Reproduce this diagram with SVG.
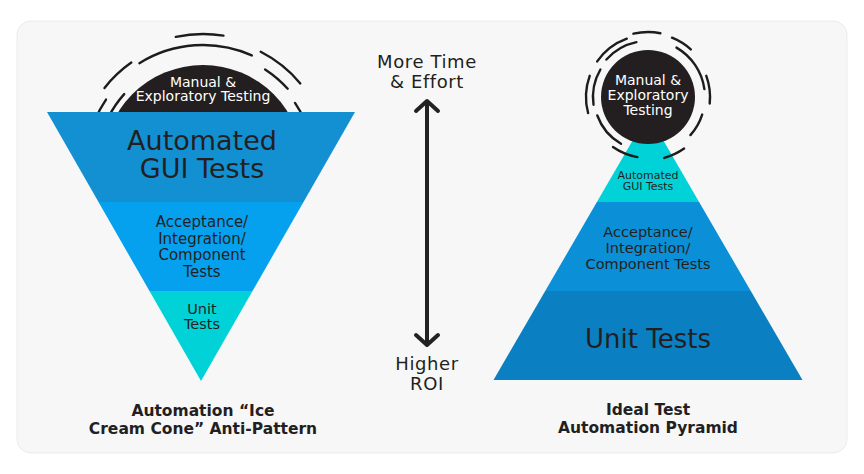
<svg xmlns="http://www.w3.org/2000/svg" width="864" height="474" viewBox="0 0 864 474">
  <style>
    .t { font-family: "DejaVu Sans", "Liberation Sans", sans-serif; fill: #231f20; text-anchor: middle; }
    .w { fill: #ffffff; }
    .cap { font-weight: bold; font-size: 15.5px; }
    .ring { fill: none; stroke: #1c1c1c; stroke-width: 2.4; stroke-linecap: round; }
    .dark { fill: #231f20; }
  </style>
  <defs>
    <marker id="chev" markerUnits="userSpaceOnUse" markerWidth="30" markerHeight="30" viewBox="-15 -15 30 30" refX="0" refY="0" orient="auto-start-reverse">
      <path d="M -10 -11 L 0 0 L -10 11" fill="none" stroke="#222" stroke-width="4" stroke-linecap="round" stroke-linejoin="round"/>
    </marker>
  </defs>

  <rect x="17" y="21" width="830" height="432" rx="14" fill="#f7f7f7" stroke="#ebebeb" stroke-width="1"/>

  <!-- Left: ice cream cone -->
  <g id="left-manual">
    <circle class="dark" cx="203" cy="165" r="100"/>
    <path class="ring" d="M175.8 36.9 A131 131 0 0 1 223.5 35.6"/>
    <path class="ring" d="M139.4 63.2 A120 120 0 0 1 251.8 55.4"/>
    <path class="ring" d="M104.5 88.0 A125 125 0 0 1 131.3 62.6"/>
    <path class="ring" d="M95.3 119.3 A117 117 0 0 1 106.0 99.6"/>
    <path class="ring" d="M108.6 116.9 A106 106 0 0 1 124.2 94.1"/>
    <path class="ring" d="M260.7 51.8 A127 127 0 0 1 300.3 83.4"/>
    <path class="ring" d="M265.1 69.4 A114 114 0 0 1 287.7 88.7"/>
    <path class="ring" d="M295.0 102.9 A111 111 0 0 1 304.4 119.9"/>
    <text class="t w" x="203" y="86.5" font-size="14">Manual &amp;</text>
    <text class="t w" x="203" y="101" font-size="14">Exploratory Testing</text>
  </g>
  <g id="left-gui">
    <polygon points="47,112 355,112 303.5,202 98.5,202" fill="#1290d2"/>
    <text class="t" x="202" y="150" font-size="27">Automated</text>
    <text class="t" x="202" y="178" font-size="27">GUI Tests</text>
  </g>
  <g id="left-acceptance">
    <polygon points="98.5,202 303.5,202 252.5,291 149.5,291" fill="#05a1ef"/>
    <text class="t" x="202" y="227" font-size="15">Acceptance/</text>
    <text class="t" x="202" y="243.5" font-size="15">Integration/</text>
    <text class="t" x="202" y="260" font-size="15">Component</text>
    <text class="t" x="202" y="276.5" font-size="15">Tests</text>
  </g>
  <g id="left-unit">
    <polygon points="149.5,291 252.5,291 201,381" fill="#00d2d8"/>
    <text class="t" x="202" y="313.5" font-size="14.5">Unit</text>
    <text class="t" x="202" y="328.5" font-size="14.5">Tests</text>
  </g>
  <g id="left-caption">
    <text class="t cap" x="203" y="415.5">Automation “Ice</text>
    <text class="t cap" x="203" y="433.5">Cream Cone” Anti-Pattern</text>
  </g>

  <!-- Middle axis -->
  <g id="axis-labels">
    <text class="t" x="427" y="68" font-size="18" letter-spacing="0.6">More Time</text>
    <text class="t" x="427" y="87.5" font-size="18" letter-spacing="0.6">&amp; Effort</text>
    <text class="t" x="427" y="370" font-size="18" letter-spacing="0.6">Higher</text>
    <text class="t" x="427" y="389.5" font-size="18" letter-spacing="0.6">ROI</text>
  </g>
  <g id="connectors">
    <line x1="427" y1="101" x2="427" y2="345" stroke="#222" stroke-width="4" marker-start="url(#chev)" marker-end="url(#chev)"/>
  </g>

  <!-- Right: pyramid -->
  <g id="right-unit">
    <polygon points="545.2,291 750.8,291 802.5,380 493.5,380" fill="#0a80c2"/>
    <text class="t" x="648" y="347.5" font-size="26">Unit Tests</text>
  </g>
  <g id="right-acceptance">
    <polygon points="596.9,202 699.1,202 750.8,291 545.2,291" fill="#0b8fd7"/>
    <text class="t" x="648" y="237" font-size="14.5">Acceptance/</text>
    <text class="t" x="648" y="253" font-size="14.5">Integration/</text>
    <text class="t" x="648" y="269" font-size="14.5">Component Tests</text>
  </g>
  <g id="right-gui">
    <polygon points="648,114 699.1,202 596.9,202" fill="#00d2d8"/>
    <text class="t" x="648" y="178.5" font-size="11">Automated</text>
    <text class="t" x="648" y="190" font-size="11">GUI Tests</text>
  </g>
  <g id="right-manual">
    <circle class="dark" cx="648" cy="97" r="47"/>
    <path class="ring" d="M633.4 33.7 A65 65 0 0 1 660.4 33.2"/>
    <path class="ring" d="M597.2 61.4 A62 62 0 0 1 626.8 38.7"/>
    <path class="ring" d="M606.4 59.5 A56 56 0 0 1 636.4 42.2"/>
    <path class="ring" d="M672.0 37.7 A64 64 0 0 1 690.8 49.4"/>
    <path class="ring" d="M676.5 47.6 A57 57 0 0 1 704.4 89.1"/>
    <path class="ring" d="M706.3 75.8 A62 62 0 0 1 709.7 103.5"/>
    <path class="ring" d="M702.2 114.6 A57 57 0 0 1 690.4 135.1"/>
    <path class="ring" d="M684.1 148.6 A63 63 0 0 1 664.3 157.9"/>
    <path class="ring" d="M637.4 157.1 A61 61 0 0 1 613.0 147.0"/>
    <path class="ring" d="M621.0 143.8 A54 54 0 0 1 597.3 115.5"/>
    <path class="ring" d="M588.1 113.0 A62 62 0 0 1 589.7 75.8"/>
    <path class="ring" d="M593.5 104.7 A55 55 0 0 1 600.4 69.5"/>
    <text class="t w" x="648" y="84.5" font-size="14">Manual &amp;</text>
    <text class="t w" x="648" y="100" font-size="14">Exploratory</text>
    <text class="t w" x="648" y="114.5" font-size="14">Testing</text>
  </g>
  <g id="right-caption">
    <text class="t cap" x="648" y="414.5">Ideal Test</text>
    <text class="t cap" x="648" y="432.5">Automation Pyramid</text>
  </g>
</svg>
